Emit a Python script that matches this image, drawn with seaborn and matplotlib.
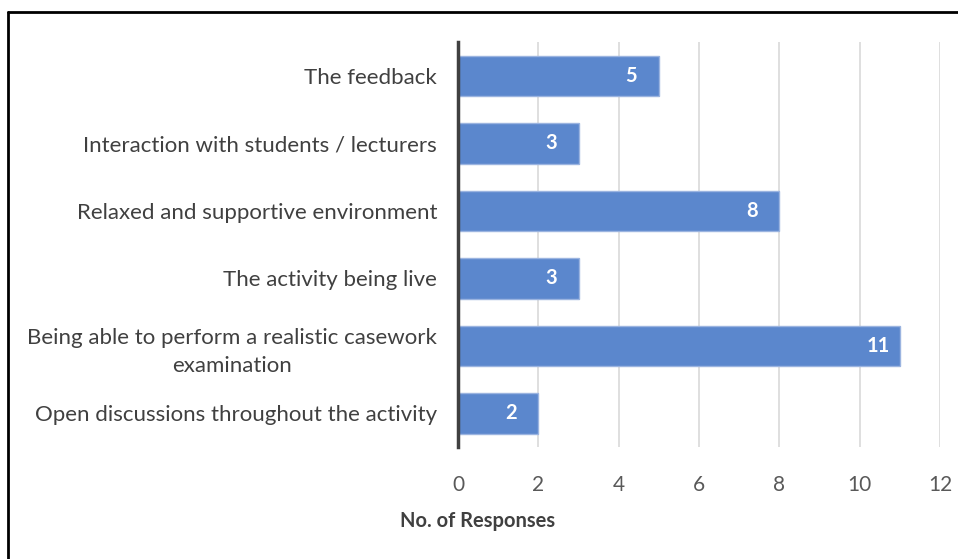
import matplotlib
matplotlib.use("Agg")
import matplotlib.pyplot as plt
import seaborn as sns
import pandas as pd
from matplotlib.lines import Line2D

categories = [
    "The feedback",
    "Interaction with students / lecturers",
    "Relaxed and supportive environment",
    "The activity being live",
    "Being able to perform a realistic casework\nexamination",
    "Open discussions throughout the activity",
]
values = [5, 3, 8, 3, 11, 2]
x_ticks = [0, 2, 4, 6, 8, 10, 12]

sns.set_theme(style="white")
plt.rcParams["font.family"] = ["Lato", "DejaVu Sans"]

df = pd.DataFrame({"category": categories, "value": values})

fig = plt.figure(figsize=(9.58, 5.59), dpi=100)
ax = fig.add_axes([458 / 958, 1 - 447 / 559, (940 - 458) / 958, (447 - 42) / 559])

sns.barplot(data=df, x="value", y="category", color="#5B87CD", saturation=1,
            width=0.6, edgecolor="#9BB4E0", linewidth=1, ax=ax, zorder=3)

ax.set_xlim(0, 12)
ax.set_ylim(5.5, -0.5)
ax.set_xticks(x_ticks)
ax.set_xticklabels([str(t) for t in x_ticks])
ax.xaxis.grid(True, color="#D9D9D9", linewidth=1.2, zorder=0)
ax.yaxis.grid(False)
for s in ["top", "right", "bottom"]:
    ax.spines[s].set_visible(False)
ax.spines["left"].set_color("#404040")
ax.spines["left"].set_linewidth(2.5)
ax.spines["left"].set_zorder(5)
ax.tick_params(axis="x", length=0, pad=20, labelsize=15, labelcolor="#595959")
ax.tick_params(axis="y", length=0, pad=15, labelsize=16, labelcolor="#404040")
for lbl in ax.get_yticklabels():
    lbl.set_horizontalalignment("right")
    lbl.set_multialignment("center")
    lbl.set_linespacing(1.5)
ax.set_xlabel("")
ax.set_ylabel("")

for cont in ax.containers:
    ax.bar_label(cont, labels=[str(v) for v in values], label_type="edge",
                 padding=-24, color="white", fontweight="bold", fontsize=14.5)

fig.text(478 / 958, 1 - 521 / 559, "No. of Responses", ha="center", va="center",
         fontsize=14.5, fontweight="bold", color="#404040")

fig.add_artist(Line2D([8 / 958, 1], [1 - 12 / 559, 1 - 12 / 559], color="black", linewidth=2,
                      transform=fig.transFigure))
fig.add_artist(Line2D([8 / 958, 8 / 958], [0, 1 - 12 / 559], color="black", linewidth=2,
                      transform=fig.transFigure))

fig.savefig("out.png", dpi=100)
